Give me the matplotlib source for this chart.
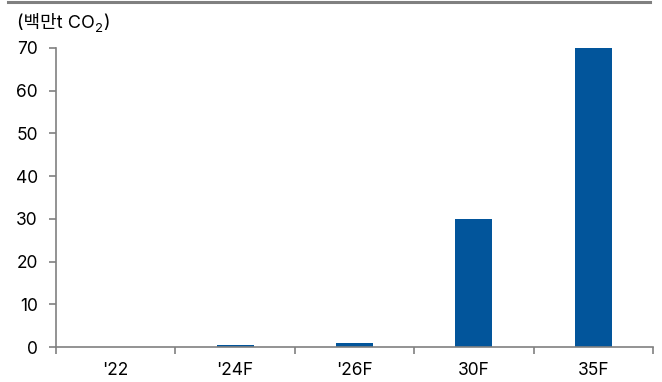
import matplotlib
matplotlib.use('Agg')
import matplotlib.pyplot as plt
import numpy as np

plt.rcParams['font.family'] = ['Inter', 'Noto Sans CJK KR', 'DejaVu Sans']

categories = ["'22", "'24F", "'26F", "30F", "35F"]
values = [0.1, 0.5, 1.0, 30, 70]
yticks = [0, 10, 20, 30, 40, 50, 60, 70]

bar_color = '#02559B'
axis_color = '#808080'

fig = plt.figure(figsize=(6.62, 3.82), dpi=100)
ax = fig.add_axes([56/662, 1-347/382, (653-56)/662, (347-48)/382])

x = np.arange(len(categories))
ax.bar(x, values, width=0.31, color=bar_color, zorder=2)

ax.set_xlim(-0.5, len(categories)-0.5)
ax.set_ylim(0, 70)
ax.set_yticks(yticks)
ax.set_yticklabels([str(v) for v in yticks], fontsize=12.5)
ax.set_xticks(x)
ax.set_xticklabels(categories, fontsize=12.5)
ax.set_xticks(np.arange(len(categories)+1)-0.5, minor=True)

for s in ['top', 'right']:
    ax.spines[s].set_visible(False)
for s in ['left', 'bottom']:
    ax.spines[s].set_color(axis_color)
    ax.spines[s].set_linewidth(1.2)
ax.tick_params(axis='y', length=5, width=1.2, color=axis_color, pad=8)
ax.tick_params(axis='x', which='major', length=0, pad=11)
ax.tick_params(axis='x', which='minor', length=5, width=1.2, color=axis_color)

# unit label built from pieces so the Korean falls back to the CJK font
renderer = fig.canvas.get_renderer()
ty = 1 - 28/382
t1 = fig.text(17/662, ty, '(백만t CO', fontsize=13, va='baseline', ha='left')
x1 = t1.get_window_extent(renderer).x1 / fig.bbox.width
t2 = fig.text(x1, ty - 4/382, '2', fontsize=9.5, va='baseline', ha='left')
x2 = t2.get_window_extent(renderer).x1 / fig.bbox.width
fig.text(x2 + 0.5/662, ty, ')', fontsize=13, va='baseline', ha='left')

fig.add_artist(plt.Line2D([8/662, 650/662], [1-1.5/382, 1-1.5/382], color=axis_color, lw=2.2))

fig.savefig('out.png', dpi=100)
